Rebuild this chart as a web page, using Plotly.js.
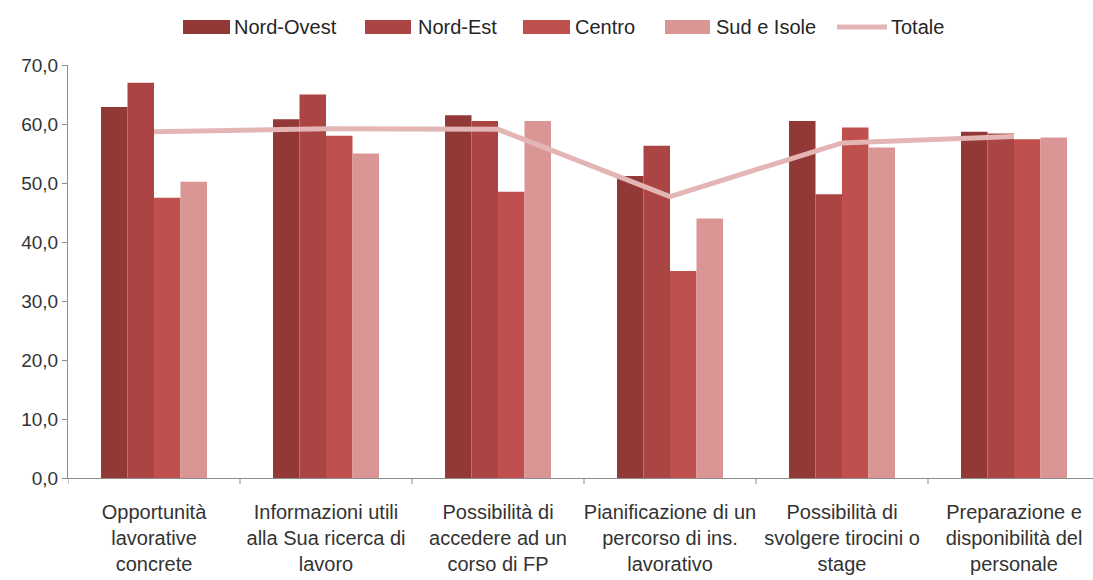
<!DOCTYPE html>
<html>
<head>
<meta charset="utf-8">
<script src="https://cdn.plot.ly/plotly-3.0.1.min.js"></script>
<style>
  html, body { margin: 0; padding: 0; background: #ffffff; }
  #chart { width: 1093px; height: 580px; }
</style>
</head>
<body>
<div id="chart"></div>
<script>
// Categorie (etichette asse X)
const categories = [
  "Opportunità<br>lavorative<br>concrete",
  "Informazioni utili<br>alla Sua ricerca di<br>lavoro",
  "Possibilità di<br>accedere ad un<br>corso di FP",
  "Pianificazione di un<br>percorso di ins.<br>lavorativo",
  "Possibilità di<br>svolgere tirocini o<br>stage",
  "Preparazione e<br>disponibilità del<br>personale"
];

// Valori per ripartizione territoriale
const nordOvest = [62.9, 60.8, 61.5, 51.2, 60.5, 58.7];
const nordEst   = [67.0, 65.0, 60.5, 56.3, 48.1, 58.4];
const centro    = [47.5, 58.0, 48.5, 35.1, 59.4, 57.4];
const sudIsole  = [50.2, 55.0, 60.5, 44.0, 56.0, 57.7];
const totale    = [58.7, 59.2, 59.1, 47.7, 56.8, 57.9];

const seriesNames = ["Nord-Ovest", "Nord-Est", "Centro", "Sud e Isole", "Totale"];
const barColors = ["#923937", "#aa4543", "#c0504d", "#d99694"];
const lineColor = "#e3b6b5";

const barSeries = [nordOvest, nordEst, centro, sudIsole];

const xIdx = categories.map((_, i) => i);

const traces = barSeries.map((vals, k) => ({
  type: "bar",
  name: seriesNames[k],
  x: xIdx,
  y: vals,
  marker: { color: barColors[k], line: { width: 0 } },
  showlegend: false,
  hoverinfo: "y+name"
}));

traces.push({
  type: "scatter",
  mode: "lines",
  name: seriesNames[4],
  x: xIdx,
  y: totale,
  line: { color: lineColor, width: 5 },
  showlegend: false
});

// Plot area geometry (pixels)
const W = 1093, H = 580;
const M = { l: 68, r: 0, t: 65, b: 102 };
const plotW = W - M.l - M.r;
const plotH = H - M.t - M.b;
const px2x = px => (px - M.l) / plotW;
const py2y = py => (H - M.b - py) / plotH;

// Legend layout: swatch start/end and text start, in pixels
const legendItems = [
  { sw: [183, 230], tx: 232 },
  { sw: [365, 411], tx: 416 },
  { sw: [523, 570], tx: 573 },
  { sw: [665, 710], tx: 714 },
  { sw: [837, 887], tx: 889 }
];
const legendY = 27;

const shapes = [];
const annotations = [];
legendItems.forEach((it, k) => {
  if (k < 4) {
    shapes.push({
      type: "rect", xref: "paper", yref: "paper",
      x0: px2x(it.sw[0]), x1: px2x(it.sw[1]),
      y0: py2y(legendY + 7), y1: py2y(legendY - 7),
      fillcolor: barColors[k], line: { width: 0 }
    });
  } else {
    shapes.push({
      type: "line", xref: "paper", yref: "paper",
      x0: px2x(it.sw[0]), x1: px2x(it.sw[1]),
      y0: py2y(legendY), y1: py2y(legendY),
      line: { color: lineColor, width: 5 }
    });
  }
  annotations.push({
    xref: "paper", yref: "paper",
    x: px2x(it.tx), y: py2y(legendY),
    xanchor: "left", yanchor: "middle",
    text: seriesNames[k], showarrow: false,
    font: { family: "Liberation Sans, Arial, sans-serif", size: 20, color: "#262626" }
  });
});

const layout = {
  width: W, height: H,
  margin: M,
  paper_bgcolor: "#ffffff",
  plot_bgcolor: "#ffffff",
  barmode: "group",
  bargap: 0.384,
  bargroupgap: 0,
  showlegend: false,
  separators: ",.",
  font: { family: "Liberation Sans, Arial, sans-serif", size: 20, color: "#333333" },
  xaxis: {
    type: "linear",
    range: [-0.5, -0.5 + plotW / 172],
    tickmode: "array",
    tickvals: xIdx,
    ticktext: categories,
    showgrid: false,
    zeroline: false,
    showline: true,
    linecolor: "#8c8c8c",
    linewidth: 1,
    ticks: "",
    ticklabelstandoff: 16,
    tickfont: { size: 20, color: "#333333" },
    fixedrange: true
  },
  yaxis: {
    range: [0, 70],
    dtick: 10,
    tick0: 0,
    tickformat: ".1f",
    showgrid: false,
    zeroline: false,
    showline: true,
    linecolor: "#8c8c8c",
    linewidth: 1,
    ticks: "outside",
    ticklen: 5,
    tickcolor: "#8c8c8c",
    tickfont: { size: 19, color: "#333333" },
    fixedrange: true
  },
  shapes: shapes,
  annotations: annotations
};

// Category boundary ticks on the X axis
for (let i = 0; i <= categories.length; i++) {
  const xb = i - 0.5;
  layout.shapes.push({
    type: "line", xref: "x", yref: "paper",
    x0: xb, x1: xb, y0: 0, y1: -6 / plotH,
    line: { color: "#8c8c8c", width: 1 }
  });
}

Plotly.newPlot("chart", traces, layout, { displayModeBar: false, staticPlot: true });
</script>
</body>
</html>
